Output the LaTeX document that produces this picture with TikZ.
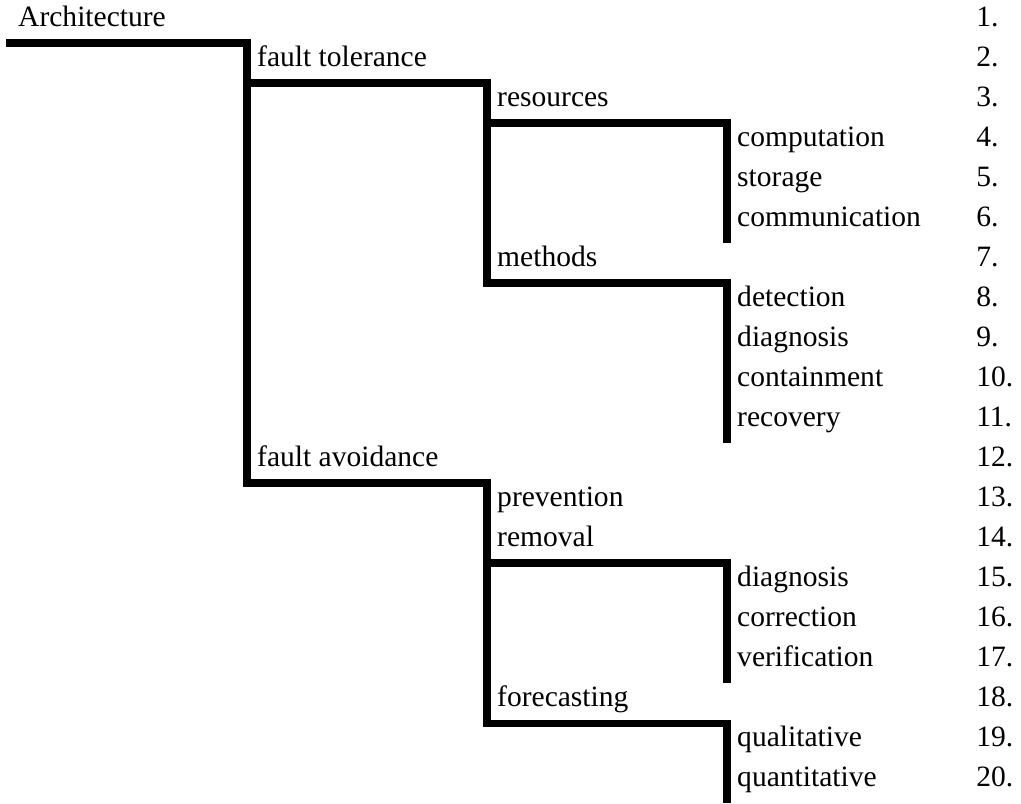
\documentclass[tikz,border=0pt]{standalone}
\usepackage{fontspec}
\setmainfont{Liberation Serif}
\usetikzlibrary{calc}
\tikzset{
  lbl/.style={anchor=base west, inner sep=0pt},
  branch/.style={line width=6pt, line join=miter},
}
\begin{document}
\begin{tikzpicture}[x=0.03cm, y=-0.03cm, font=\fontsize{25.2}{29}\selectfont]
        \useasboundingbox (0,0) rectangle (1021,803);

        \node[lbl] (arch) at (18,26) {Architecture};
        \node[lbl] (ft) at (257,66) {fault tolerance};
        \node[lbl] (res) at (497,106) {resources};
        \node[lbl] (comp) at (737,146) {computation};
        \node[lbl] (stor) at (737,186) {storage};
        \node[lbl] (comm) at (737,226) {communication};
        \node[lbl] (meth) at (497,266) {methods};
        \node[lbl] (det) at (737,306) {detection};
        \node[lbl] (diag) at (737,346) {diagnosis};
        \node[lbl] (cont) at (737,386) {containment};
        \node[lbl] (rec) at (737,426) {recovery};
        \node[lbl] (fa) at (257,466) {fault avoidance};
        \node[lbl] (prev) at (497,506) {prevention};
        \node[lbl] (rem) at (497,546) {removal};
        \node[lbl] (diagb) at (737,586) {diagnosis};
        \node[lbl] (corr) at (737,626) {correction};
        \node[lbl] (ver) at (737,666) {verification};
        \node[lbl] (fore) at (497,706) {forecasting};
        \node[lbl] (qual) at (737,746) {qualitative};
        \node[lbl] (quan) at (737,786) {quantitative};

        % numbering
        \foreach \i in {1,...,20}
          \node[lbl] (n\i) at (976,{26+40*(\i-1)}) {\i.};

        % branches
        \draw[branch] ($(arch.base west)+(-12,17)$) -| ($(fa.base west)+(-10,17)$);
        \draw[branch] ($(ft.base west)+(-14,17)$) -| ($(meth.base west)+(-10,17)$);
        \draw[branch] ($(res.base west)+(-14,17)$) -| ($(comm.base west)+(-10,17)$);
        \draw[branch] ($(meth.base west)+(-14,17)$) -| ($(rec.base west)+(-10,17)$);
        \draw[branch] ($(fa.base west)+(-14,17)$) -| ($(fore.base west)+(-10,17)$);
        \draw[branch] ($(rem.base west)+(-14,17)$) -| ($(ver.base west)+(-10,17)$);
        \draw[branch] ($(fore.base west)+(-14,17)$) -| ($(quan.base west)+(-10,17)$);
\end{tikzpicture}
\end{document}
